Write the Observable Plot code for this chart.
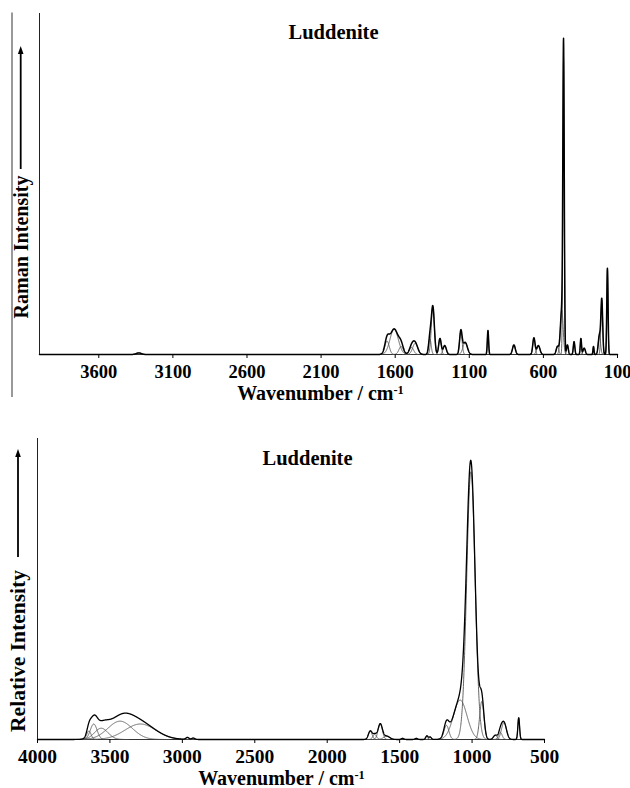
<!DOCTYPE html>
<html><head><meta charset="utf-8">
<script src="https://cdn.jsdelivr.net/npm/d3@7"></script>
<script src="https://cdn.jsdelivr.net/npm/@observablehq/plot@0.6"></script>
<style>
body{margin:0;background:#fff;}
#wrap{width:630px;height:788px;position:relative;overflow:hidden;background:#fff}
#wrap svg{display:block;overflow:visible}
</style></head><body><div id="wrap"></div>
<script>
// ---------- Data ----------
const mineral = "Luddenite";
const xTitle = "Wavenumber / cm-1";
const ramanYLabel = "Raman Intensity";
const irYLabel = "Relative Intensity";

const ramanTicks = [3600, 3100, 2600, 2100, 1600, 1100, 600, 100];
const irTicks = [4000, 3500, 3000, 2500, 2000, 1500, 1000, 500];

// Raman band components: centre (cm-1), relative height, FWHM (cm-1)
const ramanCenters = [3330, 1655, 1607, 1560, 1490, 1465, 1366, 1346, 1298, 1266, 1157, 1128, 974, 799, 664, 634, 505, 476, 464, 438, 393, 347, 325, 262, 222, 206, 168];
const ramanHeights = [0.005, 0.042, 0.080, 0.025, 0.022, 0.035, 0.050, 0.150, 0.050, 0.028, 0.072, 0.038, 0.075, 0.030, 0.052, 0.028, 0.025, 0.140, 0.930, 0.030, 0.040, 0.050, 0.020, 0.025, 0.060, 0.170, 0.270];
const ramanWidths  = [40, 35, 65, 35, 35, 40, 20, 24, 20, 25, 20, 35, 10, 22, 18, 25, 20, 22, 11, 14, 12, 10, 18, 8, 18, 14, 10];

// Infrared band components: centre (cm-1), relative height, FWHM (cm-1)
const irCenters = [3645, 3612, 3560, 3430, 3290, 2965, 2925, 1703, 1672, 1634, 1590, 1480, 1385, 1312, 1290, 1177, 1082, 1008, 933, 840, 805, 780, 678];
const irHeights = [0.030, 0.055, 0.040, 0.065, 0.055, 0.007, 0.005, 0.030, 0.018, 0.055, 0.012, 0.004, 0.004, 0.013, 0.009, 0.050, 0.140, 0.950, 0.135, 0.015, 0.025, 0.060, 0.077];
const irWidths  = [35, 55, 110, 200, 250, 25, 25, 30, 30, 35, 50, 20, 20, 18, 20, 40, 110, 68, 35, 30, 30, 40, 14];

// ---------- Build band profiles ----------
function band(c, h, w, x) { return h * Math.exp(-4 * Math.LN2 * (x - c) * (x - c) / (w * w)); }

function buildSpectrum(centers, heights, widths, lo, hi) {
  const grid = d3.range(lo, hi + 0.5, 1);
  const comps = [];
  centers.forEach((c, i) => {
    const s = widths[i] / 2.355;
    grid.filter(x => Math.abs(x - c) <= 4 * s).forEach(x => comps.push({id: i, w: x, v: band(c, heights[i], widths[i], x)}));
  });
  const env = grid.map(x => ({w: x, v: d3.sum(centers, (c, i) => band(c, heights[i], widths[i], x))}));
  return {comps, env};
}

const ramanSpec = buildSpectrum(ramanCenters, ramanHeights, ramanWidths, 100, 4000);
const irSpec = buildSpectrum(irCenters, irHeights, irWidths, 500, 4000);

function supTitle(svg) {
  svg.querySelectorAll("text").forEach(t => {
    if (t.textContent === xTitle) {
      t.textContent = "";
      const ns = "http://www.w3.org/2000/svg";
      const a = document.createElementNS(ns, "tspan"); a.textContent = "Wavenumber / cm"; t.appendChild(a);
      const b = document.createElementNS(ns, "tspan"); b.textContent = "-1"; b.setAttribute("dy", "-0.45em"); b.setAttribute("font-size", "0.62em"); t.appendChild(b);
    }
  });
}

function addYLabel(svg, x, yTail, yHead, label, labelY, fontSize) {
  const g = d3.select(svg).append("g");
  g.append("line").attr("x1", x).attr("x2", x).attr("y1", yTail).attr("y2", yHead + 7).attr("stroke", "#000").attr("stroke-width", 1.8);
  g.append("path").attr("d", `M${x},${yHead} L${x - 2.8},${yHead + 8} L${x + 2.8},${yHead + 8} Z`).attr("fill", "#000");
  g.append("text").attr("transform", `translate(${x},${labelY}) rotate(-90)`)
    .attr("text-anchor", "middle").attr("dy", "0.34em")
    .attr("font-size", fontSize).attr("font-weight", "bold").attr("fill", "#000")
    .text(label);
}

function panel(cfg) {
  const fw = cfg.width - cfg.marginLeft - cfg.marginRight;
  const svg = Plot.plot({
    width: cfg.width, height: cfg.height,
    marginLeft: cfg.marginLeft, marginRight: cfg.marginRight, marginTop: cfg.marginTop, marginBottom: cfg.marginBottom,
    style: {fontFamily: "'Liberation Serif', 'Times New Roman', serif", fontWeight: "bold", fontSize: cfg.tickFont + "px", color: "#000", background: "#fff"},
    x: {domain: cfg.xDomain},
    y: {domain: cfg.yDomain, axis: null},
    marks: [
      Plot.ruleX([cfg.xDomain[0]], {stroke: "#222", strokeWidth: 1}),
      Plot.ruleY([0], {stroke: "#333", strokeWidth: 1}),
      Plot.line(cfg.data.comps, {x: "w", y: "v", z: "id", stroke: "#555", strokeWidth: 0.9}),
      Plot.line(cfg.data.env, {x: "w", y: "v", stroke: "#000", strokeWidth: cfg.envWidth}),
      Plot.axisX(cfg.ticks, {tickSize: 4, tickPadding: cfg.tickPadding, tickFormat: d => String(d), label: null, fontSize: cfg.tickFont, fontWeight: "bold"}),
      Plot.text([mineral], {frameAnchor: "top", lineAnchor: "middle", dx: cfg.titleX - (cfg.marginLeft + fw / 2), dy: cfg.titleY - cfg.marginTop, fontSize: 20.5, fontWeight: "bold"}),
      Plot.text([xTitle], {frameAnchor: "bottom", lineAnchor: "middle", dx: cfg.xTitleX - (cfg.marginLeft + fw / 2), dy: cfg.xTitleY - (cfg.height - cfg.marginBottom), fontSize: 20, fontWeight: "bold"})
    ]
  });
  supTitle(svg);
  addYLabel(svg, cfg.yLabelX, cfg.arrowTail, cfg.arrowHead, cfg.yLabel, cfg.yLabelY, cfg.yLabelFont);
  return svg;
}

const wrap = document.getElementById("wrap");

const ramanSvg = panel({
  width: 630, height: 406, marginLeft: 39, marginRight: 13, marginTop: 13, marginBottom: 52,
  xDomain: [4000, 100], yDomain: [0, 1.069], ticks: ramanTicks, data: ramanSpec, envWidth: 1.5,
  tickFont: 18.5, tickPadding: 6,
  titleX: 333, titleY: 32, xTitleX: 320, xTitleY: 393,
  yLabel: ramanYLabel, yLabelX: 20.7, yLabelY: 247, yLabelFont: 20, arrowTail: 169, arrowHead: 46
});
// outer border line of the upper figure
d3.select(ramanSvg).append("line").attr("x1", 12).attr("x2", 12).attr("y1", 12.5).attr("y2", 397).attr("stroke", "#333").attr("stroke-width", 1);
wrap.appendChild(ramanSvg);

const irSvg = panel({
  width: 630, height: 382, marginLeft: 37, marginRight: 86, marginTop: 32, marginBottom: 49,
  xDomain: [4000, 500], yDomain: [0, 1.068], ticks: irTicks, data: irSpec, envWidth: 1.3,
  tickFont: 19.5, tickPadding: 6,
  titleX: 307, titleY: 52, xTitleX: 281, xTitleY: 372,
  yLabel: irYLabel, yLabelX: 18, yLabelY: 245, yLabelFont: 21.5, arrowTail: 151, arrowHead: 43
});
wrap.appendChild(irSvg);
</script>
</body></html>
